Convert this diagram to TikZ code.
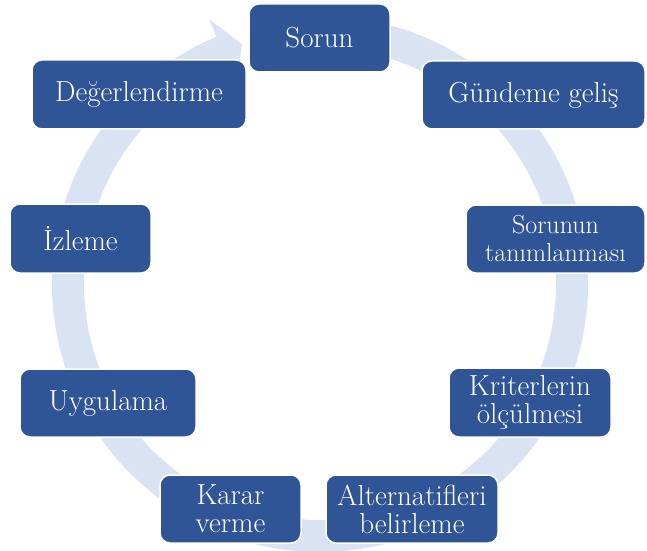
\documentclass[tikz,border=0pt]{standalone}
\usepackage{fontspec}
\definecolor{boxblue}{HTML}{2F5597}
\definecolor{ringblue}{HTML}{DAE3F3}
\begin{document}
\begin{tikzpicture}[x=1pt,y=1pt,
  stagebox/.style={rounded corners=10pt, fill=boxblue, draw=white, line width=1.5pt,
    text=white, align=center, inner sep=0pt,
    font=\fontsize{29}{28}\selectfont},
  ringshape/.style={fill=ringblue, draw=none}]
\useasboundingbox[fill=white] (0,0) rectangle (647,550);
\coordinate (C) at (320,266);
% circular arrow
\fill[ringshape] ([shift={(C)}]100:268) arc[start angle=100, end angle=-247.3, radius=268]
  -- ([shift={(C)}]112.7:287) -- ([shift={(C)}]108:252) -- ([shift={(C)}]112.7:217)
  -- ([shift={(C)}]112.7:236) arc[start angle=-247.3, end angle=100, radius=236] -- cycle;
% stages
\node[stagebox, minimum width=141, minimum height=68] (sorun) at (319.5,512) {Sorun};
\node[stagebox, minimum width=223, minimum height=68] (gundem) at (533.5,455) {Gündeme geliş};
\node[stagebox, minimum width=179, minimum height=68, font=\fontsize{26}{28}\selectfont] (tanim) at (555.5,311) {Sorunun\\tanımlanması};
\node[stagebox, minimum width=162, minimum height=69] (kriter) at (530,147.5) {Kriterlerin\\ölçülmesi};
\node[stagebox, minimum width=172, minimum height=68] (altern) at (412,41) {Alternatifleri\\belirleme};
\node[stagebox, minimum width=141, minimum height=68] (karar) at (230.5,41) {Karar\\verme};
\node[stagebox, minimum width=176, minimum height=68] (uygula) at (108,147) {Uygulama};
\node[stagebox, minimum width=141, minimum height=69] (izleme) at (80.5,311.5) {İzleme};
\node[stagebox, minimum width=214, minimum height=69] (degerl) at (139,455.5) {Değerlendirme};
\end{tikzpicture}
\end{document}
